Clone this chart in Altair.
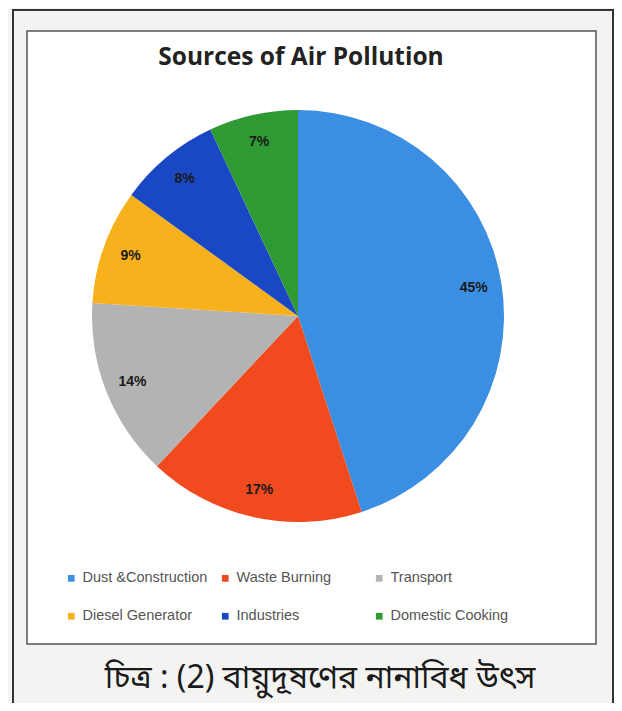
import altair as alt
import pandas as pd

categories = ["Dust &Construction", "Waste Burning", "Transport",
              "Diesel Generator", "Industries", "Domestic Cooking"]
values = [45, 17, 14, 9, 8, 7]
colors = ["#3b8fe2", "#f04a1e", "#b3b3b3", "#f7b11c", "#1a48c4", "#2f9a33"]
title_text = "Sources of Air Pollution"
caption_text = "চিত্র : (2) বায়ুদূষণের নানাবিধ উৎস"

df = pd.DataFrame({"category": categories, "value": values,
                   "order": list(range(len(categories)))})
df["label"] = df["value"].astype(str) + "%"

W, H = 606, 695
cx, cy, R = 290, 308, 206

one = pd.DataFrame({"a": [0]})

paper = alt.Chart(one).mark_rect(color="#f3f3f1").encode(
    x=alt.value(0), x2=alt.value(W), y=alt.value(0), y2=alt.value(H))
outer = alt.Chart(one).mark_rect(fill=None, stroke="#333333", strokeWidth=2).encode(
    x=alt.value(5), x2=alt.value(605), y=alt.value(2), y2=alt.value(697))
inner = alt.Chart(one).mark_rect(fill="#ffffff", stroke="#555555", strokeWidth=1.5).encode(
    x=alt.value(19), x2=alt.value(588), y=alt.value(23), y2=alt.value(636))

base = alt.Chart(df).encode(
    theta=alt.Theta("value:Q", stack=True),
    order=alt.Order("order:Q"),
)

pie = base.mark_arc(outerRadius=R).encode(
    x=alt.value(cx), y=alt.value(cy),
    color=alt.Color("category:N",
                    scale=alt.Scale(domain=categories, range=colors),
                    sort=categories,
                    legend=alt.Legend(
                        title=None, orient="none", legendX=56, legendY=563,
                        columns=3, direction="horizontal", gridAlign="all",
                        symbolType="square", symbolSize=45,
                        labelFontSize=14.5, labelColor="#555555",
                        labelFont="Liberation Sans Narrow, Liberation Sans", labelLimit=200,
                        columnPadding=10, rowPadding=23, symbolOffset=0,
                        labelOffset=4)),
)

labels = base.mark_text(radius=178, fontSize=14, fontWeight="bold",
                        color="#1a1a1a", font="Liberation Sans").encode(
    x=alt.value(cx), y=alt.value(cy), text="label:N")

title = alt.Chart(pd.DataFrame({"t": [title_text]})).mark_text(
    fontSize=24.5, fontWeight="bold", font="Open Sans", color="#222222").encode(
    x=alt.value(293), y=alt.value(50), text="t:N")

caption = alt.Chart(pd.DataFrame({"t": [caption_text]})).mark_text(
    fontSize=32, font="Noto Sans Bengali, Lohit Bengali, FreeSans, Noto Sans, sans-serif",
    color="#1a1a1a").encode(
    x=alt.value(312), y=alt.value(670), text="t:N")

chart = alt.layer(paper, outer, inner, pie, labels, title, caption).properties(
    width=W, height=H, padding=0, autosize=alt.AutoSizeParams(type="none")
).configure_view(stroke=None)

chart.save("out.html", embed_options={"renderer": "svg", "actions": False})
